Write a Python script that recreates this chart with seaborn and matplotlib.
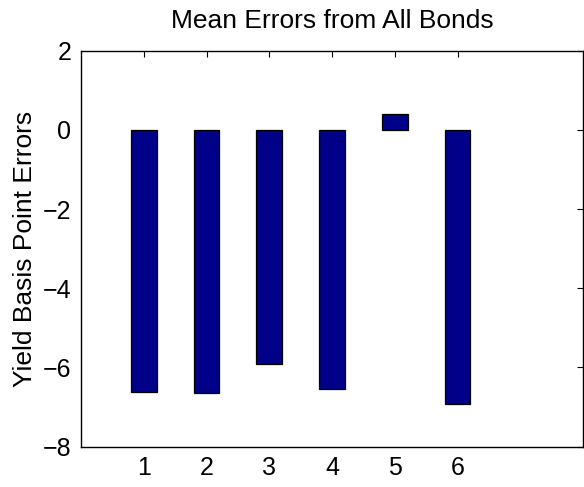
import pandas as pd
import numpy as np
import matplotlib
matplotlib.use("Agg")
import matplotlib.pyplot as plt
import seaborn as sns

# data
bond_groups = [1, 2, 3, 4, 5, 6]
mean_errors = [-6.63, -6.65, -5.92, -6.54, 0.39, -6.93]

df = pd.DataFrame({"group": bond_groups, "error": mean_errors})

sns.set_style("white")
plt.rcParams["font.family"] = ["Liberation Sans", "DejaVu Sans"]
plt.rcParams["text.color"] = "black"
plt.rcParams["axes.labelcolor"] = "black"
plt.rcParams["xtick.color"] = "black"
plt.rcParams["ytick.color"] = "black"

fig = plt.figure(figsize=(5.84, 4.87), dpi=100)
ax = fig.add_axes([0.1387, 0.0828, 0.8596, 0.8131])

sns.barplot(data=df, x="group", y="error", native_scale=True, width=0.41,
            color="#000088", saturation=1, edgecolor="black", linewidth=0.9, ax=ax)

ax.set_xlim(0, 8)
ax.set_ylim(-8, 2)
ax.set_xticks(bond_groups)
ax.set_yticks(np.arange(-8, 3, 2))
ax.set_xlabel("")
ax.set_ylabel("Yield Basis Point Errors", fontsize=19, labelpad=4)
ax.set_title("Mean Errors from All Bonds", fontsize=19, pad=16)

ax.tick_params(direction="in", length=4, width=0.8, top=True, right=True,
               labelsize=18, pad=7)
for side in ax.spines.values():
    side.set_color("black")
    side.set_linewidth(1.0)

fig.savefig("out.png", dpi=100)
